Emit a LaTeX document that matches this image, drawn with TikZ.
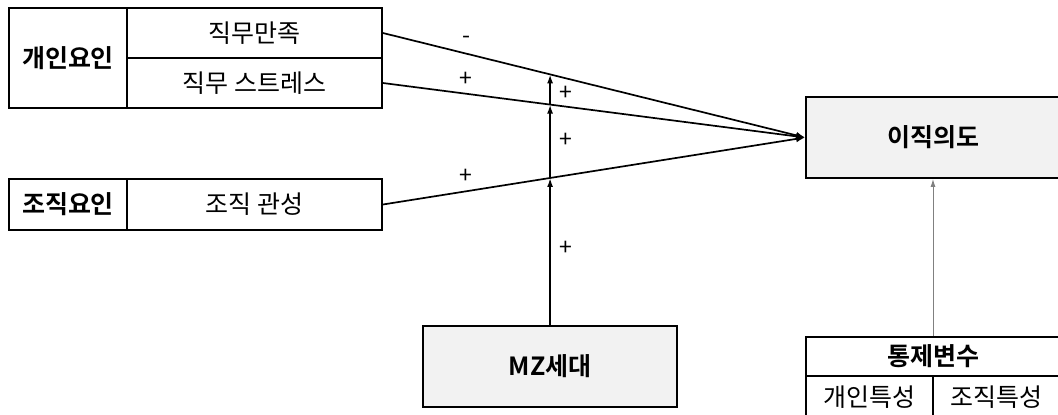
\documentclass[tikz,border=0pt]{standalone}
\usepackage{fontspec}
\setmainfont{Noto Sans CJK KR}[BoldFont={Noto Sans CJK KR Bold}]
\usetikzlibrary{arrows.meta}
\definecolor{boxfill}{HTML}{F2F2F2}
\tikzset{
  cell/.style={draw=black, line width=1.8pt, inner sep=0pt, anchor=center, font=\fontsize{25}{27}\selectfont},
  bcell/.style={cell, font=\fontsize{25}{27}\selectfont\bfseries},
  gbox/.style={bcell, fill=boxfill},
  path/.style={line width=1.7pt, -{Latex[length=9pt,width=7pt]}},
  mzarrow/.style={line width=1.7pt, -{Latex[length=9pt,width=6pt]}},
  ctrlarrow/.style={draw=gray, line width=1pt, -{Latex[length=8pt,width=5pt]}},
  sign/.style={font=\fontsize{23}{25}\selectfont, inner sep=0pt}
}
\begin{document}
\begin{tikzpicture}[x=1pt,y=-1pt]
\useasboundingbox (0,0) rectangle (1058,415);
\fill[white] (0,0) rectangle (1058,415);
% left boxes
\node[bcell, minimum width=118, minimum height=100] (ind) at (68,58) {개인요인};
\node[cell, minimum width=255, minimum height=50] (jm) at (254.5,33) {직무만족};
\node[cell, minimum width=255, minimum height=50] (st) at (254.5,83) {직무 스트레스};
\node[bcell, minimum width=118, minimum height=51] (orgf) at (68,204.5) {조직요인};
\node[cell, minimum width=255, minimum height=51] (inr) at (254.5,204.5) {조직 관성};
% outcome
\node[gbox, minimum width=254, minimum height=81] (ti) at (933,137.5) {이직의도};
% moderator
\node[gbox, minimum width=254, minimum height=81] (mz) at (550,366.5) {MZ세대};
% controls
\node[bcell, minimum width=254, minimum height=39] (ctl) at (933,356.5) {통제변수};
\node[cell, minimum width=127, minimum height=42] (ic) at (869.5,397) {개인특성};
\node[cell, minimum width=127, minimum height=42] (oc) at (996.5,397) {조직특성};
% paths
\draw[path] (jm.east) -- coordinate[pos=0.396] (p1) (ti.west);
\draw[path] (st.east) -- coordinate[pos=0.396] (p2) (ti.west);
\draw[path] (inr.east) -- coordinate[pos=0.396] (p3) (ti.west);
\draw[mzarrow] (mz.north) -- (p3);
\draw[mzarrow] (p3) -- (p2);
\draw[mzarrow] (p2) -- (p1);
\draw[ctrlarrow] (ctl.north) -- (ti.south);
% signs
\node[sign] (s1) at (466,40) {-};
\node[sign] (s2) at (466,79) {+};
\node[sign] (s3) at (566,93) {+};
\node[sign] (s4) at (566,140) {+};
\node[sign] (s5) at (466,176) {+};
\node[sign] (s6) at (566,248) {+};
\end{tikzpicture}
\end{document}
